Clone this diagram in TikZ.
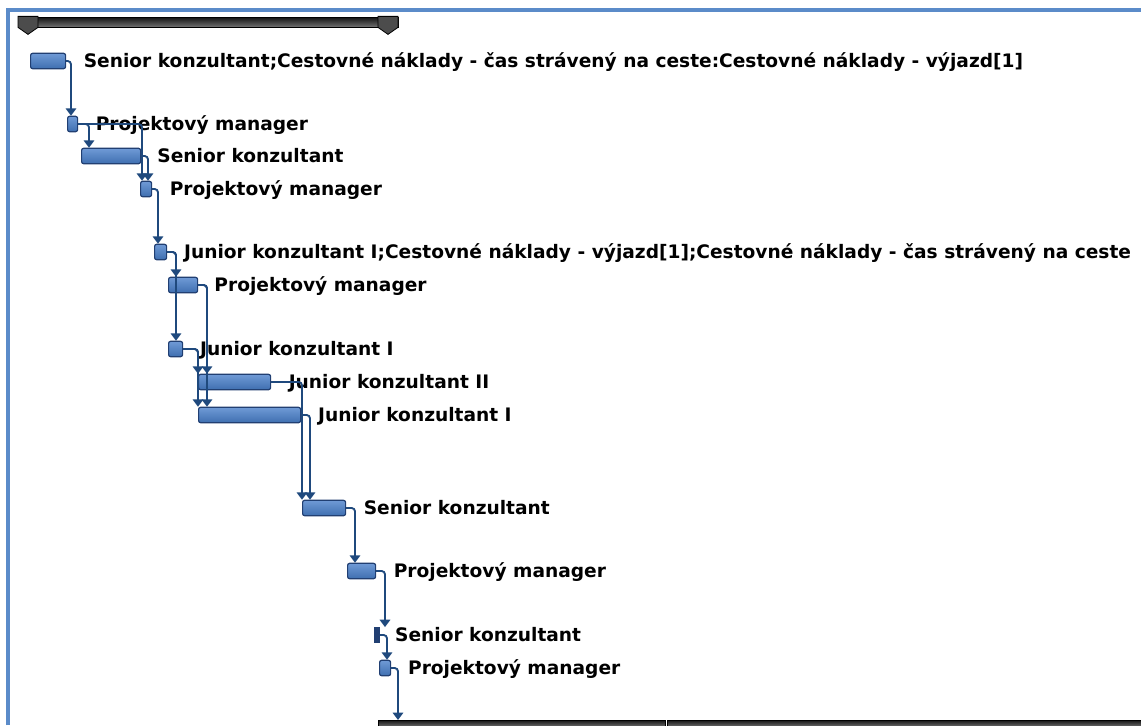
\documentclass[tikz,border=0pt]{standalone}
\usepackage{fontspec}
\setmainfont{DejaVu Sans}
\usetikzlibrary{arrows.meta,positioning,calc}
\definecolor{ink}{HTML}{1F497D}
\definecolor{barlo}{HTML}{3F6FB0}
\definecolor{barmid}{HTML}{B3CEF1}
\definecolor{bartop}{HTML}{6F9AD6}
\definecolor{rim}{HTML}{213F72}
\definecolor{frameblue}{HTML}{5B8BC9}
\tikzset{bw/.style={minimum width=#1*0.75pt}, task/.style={draw=rim,line width=0.9pt,rounded corners=1.5pt,top color=bartop,middle color=barmid,bottom color=barlo,inner sep=0pt,minimum height=11.5pt,anchor=west}, mile/.style={fill=rim,draw=rim,inner sep=0pt,minimum height=11.5pt,anchor=west}, lbl/.style={font=\bfseries\fontsize{13.95}{17}\selectfont,inner sep=0pt,text height=10.2pt,text depth=0pt}, sumbar/.style={draw=black,line width=0.7pt,top color=black!90,bottom color=black!55,inner sep=0pt,minimum height=7pt,anchor=west}, link/.style={draw=ink,line width=1.4pt,rounded corners=2.5pt,-{Triangle[width=7.8pt,length=5.5pt]}}}
\begin{document}
\begin{tikzpicture}[x=0.75pt,y=-0.75pt]
\useasboundingbox (0,0) rectangle (1141,725);
% frame of the chart pane
\draw[frameblue,line width=2.8pt] (8,725)--(8,10)--(1141,10);
% project summary bar
\node[sumbar,bw=380](top) at (18,22.5){};
\foreach \e in {0,360}{\filldraw[black!70,draw=black,line width=0.6pt] ($(top.north west)+(\e,-1)$) -- ++(20,0) -- ++(0,11) -- ++(-10,7) -- ++(-10,-7) -- cycle;}
% tasks
\node[task,bw=35](t1) at (30,61){};\node[lbl,right=13pt of t1](l1){Senior konzultant;Cestovné náklady - čas strávený na ceste:Cestovné náklady - výjazd[1]};
\node[task,bw=10](t2) at (67,124){};\node[lbl,right=13pt of t2](l2){Projektový manager};
\node[task,bw=59](t3) at (81,156){};\node[lbl,right=12pt of t3](l3){Senior konzultant};
\node[task,bw=11](t4) at (140,189){};\node[lbl,right=13pt of t4](l4){Projektový manager};
\node[task,bw=12](t5) at (154,252){};\node[lbl,right=12.5pt of t5](l5){Junior konzultant I;Cestovné náklady - výjazd[1];Cestovné náklady - čas strávený na ceste};
\node[task,bw=29](t6) at (168,285){};\node[lbl,right=12pt of t6](l6){Projektový manager};
\node[task,bw=14](t7) at (168,349){};\node[lbl,right=12.5pt of t7](l7){Junior konzultant I};
\node[task,bw=72](t8) at (198,382){};\node[lbl,right=13pt of t8](l8){Junior konzultant II};
\node[task,bw=102](t9) at (198,415){};\node[lbl,right=12.5pt of t9](l9){Junior konzultant I};
\node[task,bw=43](t10) at (302,508){};\node[lbl,right=13pt of t10](l10){Senior konzultant};
\node[task,bw=28](t11) at (347,571){};\node[lbl,right=13pt of t11](l11){Projektový manager};
\node[mile,bw=5](t12) at (374,635){};\node[lbl,right=11.5pt of t12](l12){Senior konzultant};
\node[task,bw=11](t13) at (379,668){};\node[lbl,right=12.5pt of t13](l13){Projektový manager};
% next summary, cut by the pane
\node[sumbar,anchor=north west,bw=287,minimum height=5pt](bot) at (378,720){};\node[sumbar,anchor=north west,bw=480,minimum height=5pt](bot2) at (667,720){};
\foreach \a/\b/\d in {t1/t2/4,t2/t3/8,t2/t4/2,t3/t4/8,t4/t5/4,t5/t6/8,t5/t7/8,t6/t8/9,t6/t9/9,t7/t8/0,t7/t9/0,t8/t10/0,t9/t10/8,t10/t11/8,t11/t12/11,t12/t13/8,t13/bot/20}{\draw[link](\a.east)-|($(\b.north west)+(\d,0)$);}
\end{tikzpicture}
\end{document}
